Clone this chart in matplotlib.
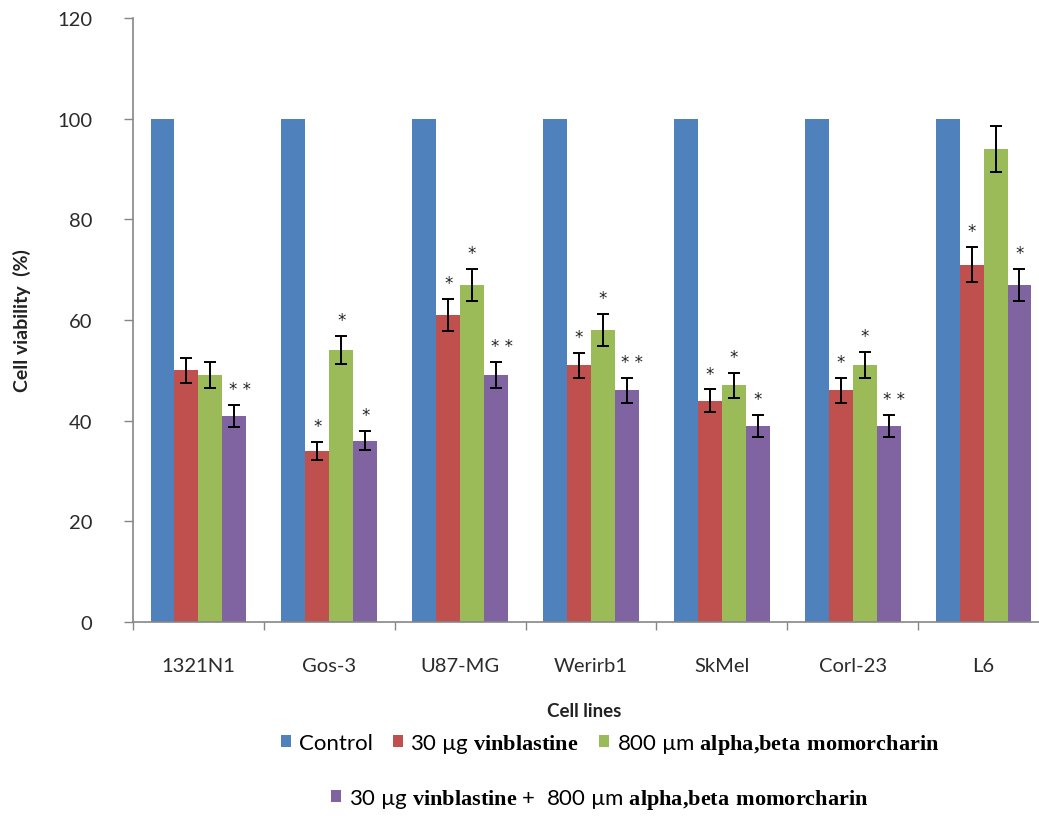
"""
Cell viability bar chart: control vs vinblastine / momorcharin treatments
across seven cell lines, Excel-2007 style.
"""
import matplotlib
matplotlib.use("Agg")
import matplotlib.pyplot as plt
import numpy as np

plt.rcParams["font.family"] = ["Lato", "DejaVu Sans"]
plt.rcParams["mathtext.fontset"] = "custom"
plt.rcParams["mathtext.bf"] = "Liberation Serif:bold"
plt.rcParams["mathtext.rm"] = "Liberation Serif"

# Data
cell_lines = ["1321N1", "Gos-3", "U87-MG", "Werirb1", "SkMel", "Corl-23", "L6"]
control = [100, 100, 100, 100, 100, 100, 100]
vinb = [50, 34, 61, 51, 44, 46, 71]
vinb_err = [2.5, 1.8, 3.2, 2.5, 2.2, 2.4, 3.5]
momo = [49, 54, 67, 58, 47, 51, 94]
momo_err = [2.6, 2.8, 3.2, 3.2, 2.5, 2.6, 4.5]
combo = [41, 36, 49, 46, 39, 39, 67]
combo_err = [2.2, 1.9, 2.6, 2.4, 2.2, 2.2, 3.2]
vinb_sig = ["", "*", "*", "*", "*", "*", "*"]
momo_sig = ["", "*", "*", "*", "*", "*", ""]
combo_sig = ["* *", "*", "* *", "* *", "*", "* *", "*"]
y_ticks = [0, 20, 40, 60, 80, 100, 120]

series_labels = [
    "Control",
    r"30 µg $\mathbf{vinblastine}$",
    r"800 µm $\mathbf{alpha{,}beta\ momorcharin}$",
    r"30 µg $\mathbf{vinblastine}$ +  800 µm $\mathbf{alpha{,}beta\ momorcharin}$",
]

BLUE = "#4F81BD"
RED = "#C0504D"
GREEN = "#9BBB59"
PURPLE = "#8064A2"
AXIS_GRAY = "#868686"
TEXT = "#2b2b2b"

fig = plt.figure(figsize=(10.39, 8.2), dpi=100)
ax = fig.add_axes([133 / 1039, 1 - 623 / 820, 916 / 1039, 604 / 820])

x = np.arange(len(cell_lines))
w = 0.183
offsets = [-1.5 * w, -0.5 * w, 0.5 * w, 1.5 * w]
err_kw = dict(ecolor="black", elinewidth=1.4, capsize=4.5, capthick=1.4)

b0 = ax.bar(x + offsets[0], control, w, color=BLUE, zorder=2)
b1 = ax.bar(x + offsets[1], vinb, w, color=RED, yerr=vinb_err,
            error_kw=err_kw, zorder=2)
b2 = ax.bar(x + offsets[2], momo, w, color=GREEN, yerr=momo_err,
            error_kw=err_kw, zorder=2)
b3 = ax.bar(x + offsets[3], combo, w, color=PURPLE, yerr=combo_err,
            error_kw=err_kw, zorder=2)

# significance stars above error bars
for off, vals, errs, sigs in [(offsets[1], vinb, vinb_err, vinb_sig),
                              (offsets[2], momo, momo_err, momo_sig),
                              (offsets[3], combo, combo_err, combo_sig)]:
    for i, s in enumerate(sigs):
        if not s:
            continue
        if len(s) > 1:
            ax.annotate(s, (x[i] + off, vals[i] + errs[i]), xytext=(-4, 5),
                        textcoords="offset points", ha="left", va="bottom",
                        fontsize=12, color="#222222", family="DejaVu Sans")
        else:
            ax.annotate(s, (x[i] + off, vals[i] + errs[i]), xytext=(0, 5),
                        textcoords="offset points", ha="center", va="bottom",
                        fontsize=12, color="#222222", family="DejaVu Sans")

ax.set_xlim(-0.5, 6.5)
ax.set_ylim(0, 120)
ax.set_yticks(y_ticks)
ax.set_yticklabels([str(t) for t in y_ticks], fontsize=14.5, color=TEXT)
ax.set_xticks(x)
ax.set_xticklabels(cell_lines, fontsize=14.5, color=TEXT)
ax.set_xticks(np.arange(-0.5, 7.0, 1.0), minor=True)

ax.tick_params(axis="y", direction="out", length=6.5, width=1, color=AXIS_GRAY, pad=23)
ax.tick_params(axis="x", which="major", length=0, pad=25)
ax.tick_params(axis="x", which="minor", direction="out", length=6, width=1,
               color=AXIS_GRAY)

for side in ["top", "right"]:
    ax.spines[side].set_visible(False)
ax.spines["left"].set_color(AXIS_GRAY)
ax.spines["bottom"].set_color(AXIS_GRAY)
ax.spines["left"].set_linewidth(1.2)
ax.spines["bottom"].set_linewidth(1.2)

# axis titles
fig.text(22 / 1039, 1 - 321 / 820, "Cell viability  (%)", rotation=90,
         ha="center", va="center", fontsize=14, fontweight="bold", color="#222222")
fig.text(584 / 1039, 1 - 712 / 820, "Cell lines", ha="center", va="center",
         fontsize=13.5, fontweight="bold", color="#222222")

# legend in two rows
leg_kw = dict(frameon=False, fontsize=16, handlelength=0.45, handleheight=0.5,
              handletextpad=0.35, columnspacing=0.9, loc="center")
fig.legend([b0, b1, b2], series_labels[:3], ncol=3,
           bbox_to_anchor=(610 / 1039, 1 - 745 / 820), **leg_kw)
fig.legend([b3], series_labels[3:], ncol=1,
           bbox_to_anchor=(600 / 1039, 1 - 800 / 820), **leg_kw)

fig.savefig("out.png", dpi=100, facecolor="white")
plt.close(fig)
